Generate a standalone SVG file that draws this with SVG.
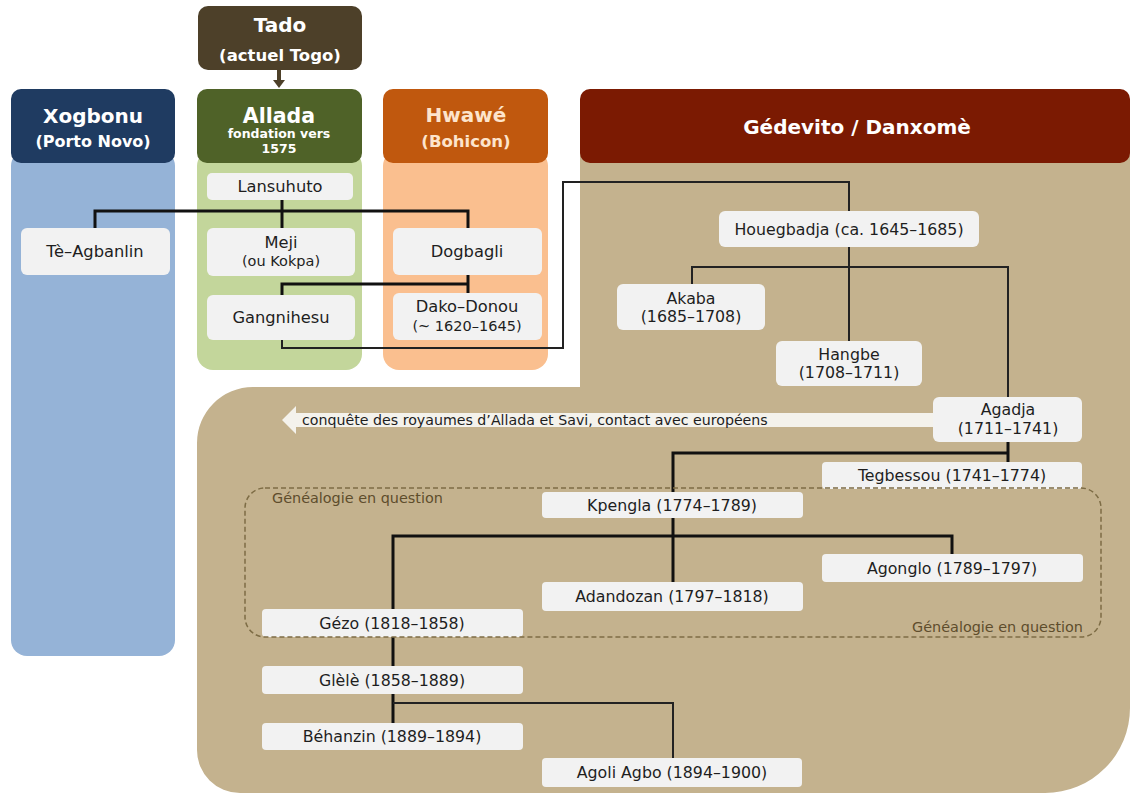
<svg xmlns="http://www.w3.org/2000/svg" width="1136" height="796" viewBox="0 0 1136 796">
<style>
.hd{font-family:"DejaVu Sans","Liberation Sans",sans-serif;font-weight:bold;text-anchor:middle;fill:#ffffff}
.nd{fill:#f2f2f2}
.t{font-family:"DejaVu Sans","Liberation Sans",sans-serif;font-size:15.8px;text-anchor:middle;fill:#1e1e1e}
.tl{font-family:"DejaVu Sans","Liberation Sans",sans-serif;font-size:16.3px;text-anchor:middle;fill:#1e1e1e}
.ts{font-family:"DejaVu Sans","Liberation Sans",sans-serif;font-size:14.5px;text-anchor:middle;fill:#1e1e1e}
.thick{fill:none;stroke:#111;stroke-width:3}
.thin{fill:none;stroke:#222;stroke-width:2}
.gq{font-family:"DejaVu Sans","Liberation Sans",sans-serif;font-size:14.4px;fill:#5e4d2c}
</style>
<rect width="1136" height="796" fill="#ffffff"/>

<!-- Regions -->
<g id="region-xogbonu">
<rect x="11" y="150" width="164" height="506" rx="16" fill="#95b3d7"/>
<rect x="11" y="89" width="164" height="74" rx="10" fill="#1f3b61"/>
<text class="hd" x="93" y="123" font-size="20">Xogbonu</text>
<text class="hd" x="93" y="147" font-size="16">(Porto Novo)</text>
</g>
<g id="region-allada">
<rect x="197" y="150" width="165" height="220" rx="16" fill="#c3d69b"/>
<rect x="197" y="89" width="165" height="74" rx="10" fill="#4f6228"/>
<text class="hd" x="279" y="123" font-size="20.5">Allada</text>
<text class="hd" x="279" y="138" font-size="12.5">fondation vers</text>
<text class="hd" x="279" y="153" font-size="12.5">1575</text>
</g>
<g id="region-hwawe">
<rect x="383" y="150" width="165" height="220" rx="16" fill="#fabf8f"/>
<rect x="383" y="89" width="165" height="74" rx="10" fill="#c0580e"/>
<text class="hd" x="466" y="122" font-size="20" style="fill:#fde4cc">Hwawé</text>
<text class="hd" x="466" y="147" font-size="16.5" style="fill:#fde4cc">(Bohicon)</text>
</g>
<g id="region-danxome">
<path d="M580 150 H1130 V708 A85 85 0 0 1 1045 793 H240 A43 43 0 0 1 197 750 V443 A56 56 0 0 1 253 387 H580 Z" fill="#c4b28e"/>
<rect x="580" y="89" width="550" height="74" rx="10" fill="#7b1a02"/>
<text class="hd" x="857" y="134" font-size="20">Gédevito / Danxomè</text>
</g>
<g id="tado">
<rect x="198" y="6" width="164" height="64" rx="10" fill="#4d4029"/>
<text class="hd" x="280" y="32" font-size="20">Tado</text>
<text class="hd" x="280" y="61" font-size="16.5">(actuel Togo)</text>
</g>

<!-- Conquest arrow -->
<g id="conquete">
<polygon points="282,420 296,406 296,413 934,413 934,427 296,427 296,434" fill="#f4f2ec"/>
<text x="302" y="425" font-family="DejaVu Sans, Liberation Sans, sans-serif" font-size="14.2" fill="#1e1e1e">conquête des royaumes d’Allada et Savi, contact avec européens</text>
</g>

<!-- Connectors -->
<g id="connectors">
<path d="M279 70 V81" stroke="#4d4029" stroke-width="4" fill="none"/>
<polygon points="273,80 285,80 279,88" fill="#4d4029"/>
<path class="thick" d="M95 228 V211 H468 V228"/>
<path class="thick" d="M282 200 V228"/>
<path class="thick" d="M282 295 V284 H468"/>
<path class="thick" d="M468 275 V293"/>
<path class="thin" d="M282 340 V348 H563 V182 H849 V211"/>
<path class="thin" d="M849 247 V341"/>
<path class="thin" d="M692 284 V267 H1008 V397"/>
<path class="thick" d="M1008 442 V462"/>
<path class="thick" d="M1008 453 H673 V492"/>
<path class="thick" d="M673 518 V582"/>
<path class="thick" d="M393 609 V536 H952 V554"/>
<path class="thick" d="M393 637 V666"/>
<path class="thick" d="M393 694 V723"/>
<path class="thin" d="M393 703 H673 V758"/>
</g>

<!-- Nodes -->
<g id="lansuhuto"><rect class="nd" x="207" y="173" width="146" height="27" rx="5"/><text class="tl" x="280" y="192">Lansuhuto</text></g>
<g id="te-agbanlin"><rect class="nd" x="21" y="228" width="149" height="47" rx="6"/><text class="tl" x="95" y="257">Tè–Agbanlin</text></g>
<g id="meji"><rect class="nd" x="207" y="228" width="148" height="48" rx="6"/><text class="tl" x="281" y="248">Meji</text><text class="ts" x="281" y="266">(ou Kokpa)</text></g>
<g id="gangnihesu"><rect class="nd" x="207" y="295" width="148" height="45" rx="6"/><text class="tl" x="281" y="323">Gangnihesu</text></g>
<g id="dogbagli"><rect class="nd" x="393" y="228" width="149" height="47" rx="6"/><text class="tl" x="467" y="257">Dogbagli</text></g>
<g id="dako-donou"><rect class="nd" x="393" y="293" width="149" height="47" rx="6"/><text class="tl" x="467" y="312">Dako–Donou</text><text class="ts" x="467" y="331">(~ 1620–1645)</text></g>
<g id="houegbadja"><rect class="nd" x="719" y="211" width="260" height="36" rx="6"/><text class="t" x="849" y="235">Houegbadja (ca. 1645–1685)</text></g>
<g id="akaba"><rect class="nd" x="617" y="284" width="148" height="46" rx="6"/><text class="t" x="691" y="304">Akaba</text><text class="t" x="691" y="322">(1685–1708)</text></g>
<g id="hangbe"><rect class="nd" x="776" y="341" width="146" height="45" rx="6"/><text class="t" x="849" y="360">Hangbe</text><text class="t" x="849" y="378">(1708–1711)</text></g>
<g id="agadja"><rect class="nd" x="933" y="397" width="149" height="45" rx="6"/><text class="t" x="1008" y="415">Agadja</text><text class="t" x="1008" y="434">(1711–1741)</text></g>
<g id="tegbessou"><rect class="nd" x="822" y="462" width="260" height="27" rx="4"/><text class="t" x="952" y="481">Tegbessou (1741–1774)</text></g>
<g id="kpengla"><rect class="nd" x="542" y="492" width="261" height="26" rx="4"/><text class="t" x="672" y="511">Kpengla (1774–1789)</text></g>
<g id="agonglo"><rect class="nd" x="822" y="554" width="261" height="28" rx="4"/><text class="t" x="952" y="574">Agonglo (1789–1797)</text></g>
<g id="adandozan"><rect class="nd" x="542" y="582" width="261" height="29" rx="4"/><text class="t" x="672" y="602">Adandozan (1797–1818)</text></g>
<g id="gezo"><rect class="nd" x="262" y="609" width="261" height="28" rx="4"/><text class="t" x="392" y="629">Gézo (1818–1858)</text></g>
<g id="glele"><rect class="nd" x="262" y="666" width="261" height="28" rx="4"/><text class="t" x="392" y="686">Glèlè (1858–1889)</text></g>
<g id="behanzin"><rect class="nd" x="262" y="723" width="261" height="27" rx="4"/><text class="t" x="392" y="742">Béhanzin (1889–1894)</text></g>
<g id="agoli-agbo"><rect class="nd" x="542" y="758" width="260" height="29" rx="4"/><text class="t" x="672" y="778">Agoli Agbo (1894–1900)</text></g>

<!-- Genealogy in question -->
<g id="genealogie">
<rect x="245" y="488" width="856" height="149" rx="20" fill="none" stroke="#7d6c45" stroke-width="1.5" stroke-dasharray="5 3"/>
<text class="gq" x="272" y="503">Généalogie en question</text>
<text class="gq" x="1083" y="632" text-anchor="end">Généalogie en question</text>
</g>
</svg>
